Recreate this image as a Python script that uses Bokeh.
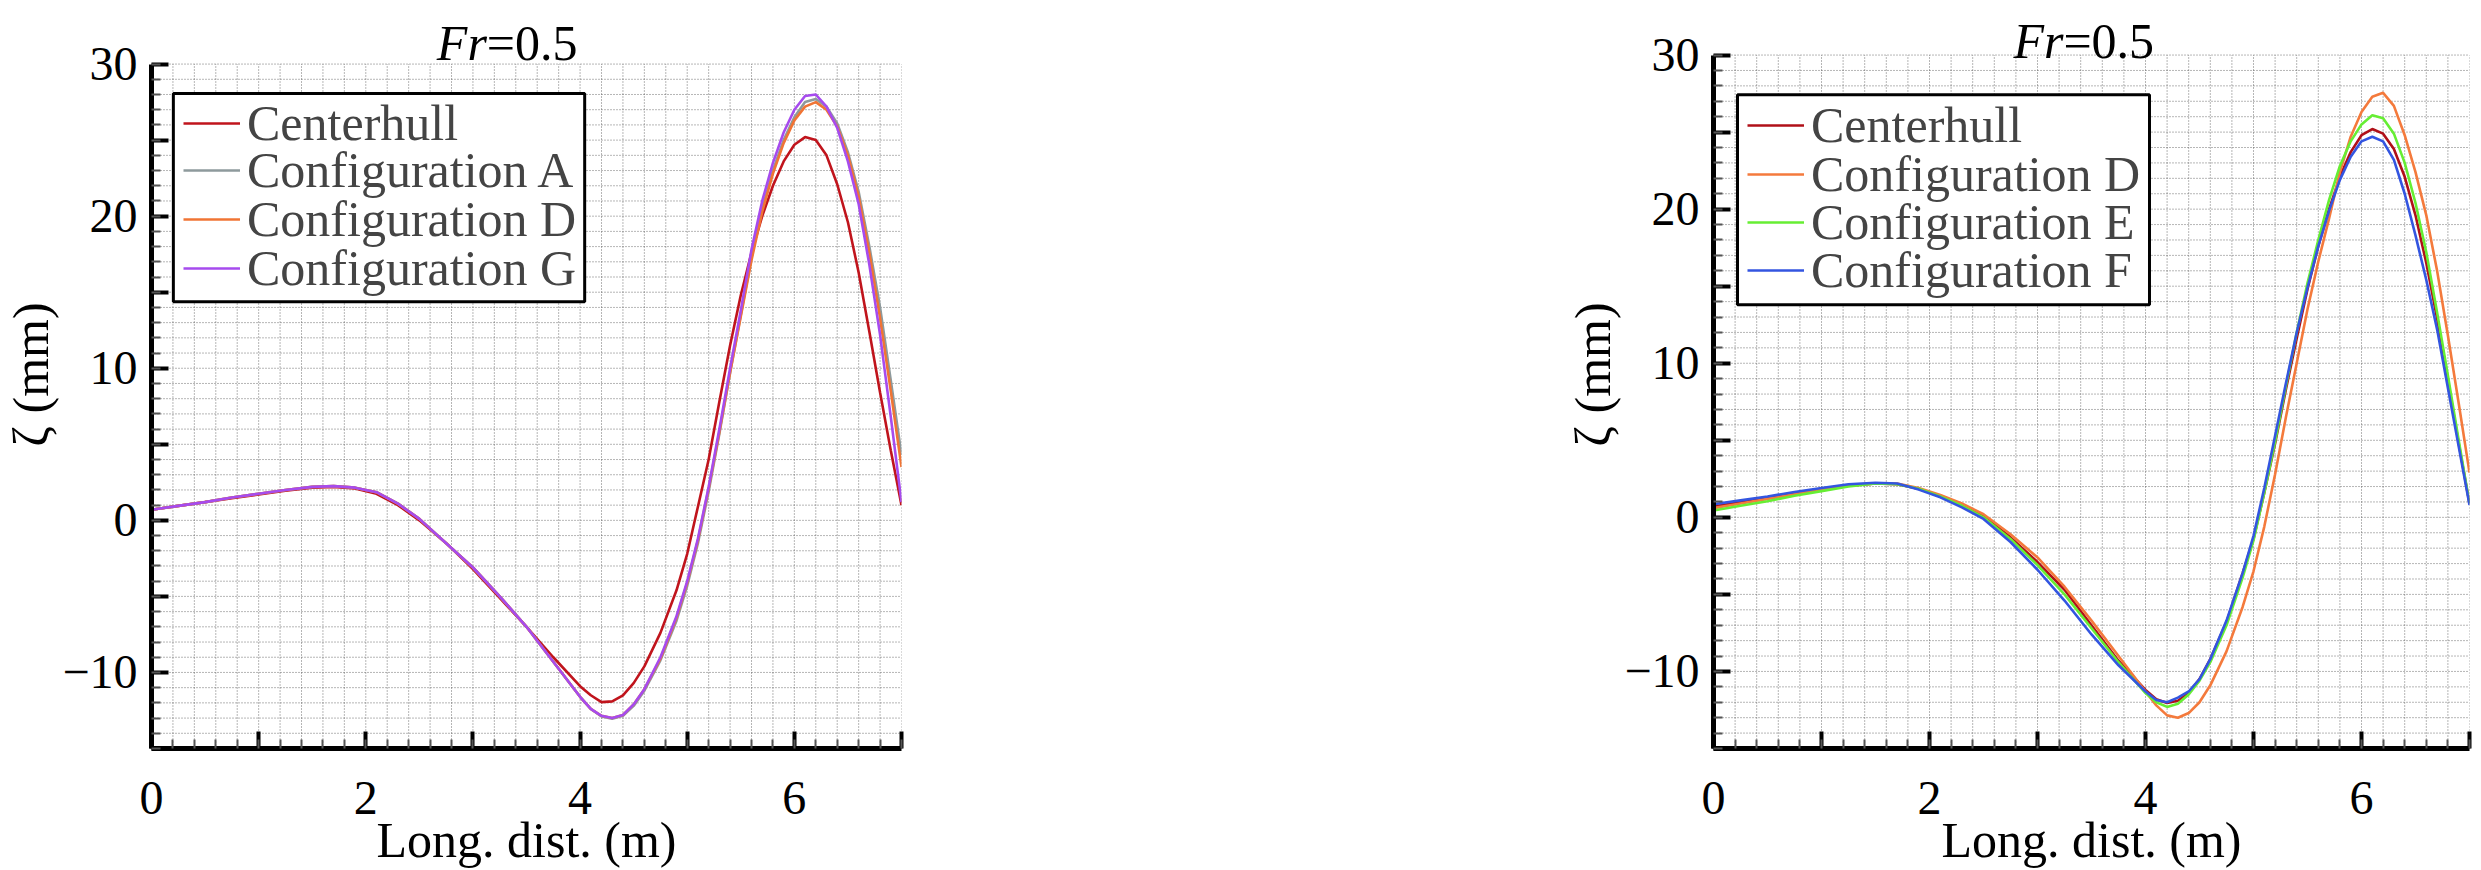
import numpy as np
from bokeh.plotting import figure
from bokeh.models import FixedTicker, Legend, LegendItem, Label, Range1d, BoxAnnotation
from bokeh.layouts import row
from bokeh.embed import file_html
from bokeh.resources import INLINE

# ---------------- data ----------------
X = [0.0, 0.25, 0.5, 0.75, 1.0, 1.25, 1.5, 1.7, 1.9, 2.1, 2.3, 2.5, 2.75, 3.0, 3.25, 3.5, 3.75,
     4.0, 4.1, 4.2, 4.3, 4.4, 4.5, 4.6, 4.75, 4.9, 5.0, 5.1, 5.2, 5.3, 5.4, 5.5, 5.6, 5.7, 5.8,
     5.9, 6.0, 6.1, 6.2, 6.3, 6.4, 6.5, 6.6, 6.7, 6.8, 6.9, 7.0]

# left panel
left_centerhull = [0.7, 0.95, 1.2, 1.45, 1.7, 1.95, 2.15, 2.2, 2.1, 1.75, 1.0, 0.0, -1.5, -3.2, -5.1, -7.0, -9.0,
                   -10.9, -11.5, -11.95, -11.9, -11.5, -10.7, -9.6, -7.4, -4.6, -2.2, 0.9, 4.0, 7.8, 11.5, 14.8,
                   17.6, 20.0, 22.0, 23.6, 24.7, 25.2, 25.0, 24.0, 22.1, 19.6, 16.3, 12.4, 8.4, 4.6, 1.0]
left_config_a = [0.7, 0.95, 1.2, 1.5, 1.75, 2.0, 2.2, 2.25, 2.15, 1.85, 1.1, 0.1, -1.5, -3.1, -5.0, -7.0, -9.3,
                 -11.6, -12.4, -12.9, -13.05, -12.85, -12.2, -11.2, -9.2, -6.6, -4.3, -1.5, 1.9, 5.7, 9.7, 13.5,
                 17.3, 20.5, 23.0, 25.0, 26.5, 27.5, 27.7, 27.2, 26.1, 24.2, 21.6, 18.0, 14.0, 9.2, 4.3]
left_config_d = [0.7, 0.95, 1.2, 1.5, 1.75, 2.0, 2.2, 2.25, 2.15, 1.85, 1.1, 0.1, -1.5, -3.1, -5.0, -7.0, -9.3,
                 -11.6, -12.4, -12.85, -13.0, -12.8, -12.1, -11.1, -9.1, -6.4, -4.1, -1.3, 2.1, 5.8, 9.7, 13.4,
                 17.1, 20.3, 22.8, 24.8, 26.3, 27.2, 27.5, 27.0, 25.9, 24.0, 21.3, 17.6, 13.3, 8.5, 3.5]
left_config_g = [0.7, 0.95, 1.2, 1.5, 1.75, 2.0, 2.2, 2.25, 2.15, 1.85, 1.1, 0.1, -1.5, -3.1, -5.0, -7.0, -9.3,
                 -11.6, -12.4, -12.85, -13.0, -12.8, -12.1, -11.1, -9.0, -6.3, -4.0, -1.2, 2.2, 6.0, 10.0, 13.8,
                 17.8, 21.0, 23.5, 25.5, 27.0, 27.9, 28.0, 27.2, 25.8, 23.6, 20.8, 16.8, 12.2, 6.8, 1.2]

# right panel
right_centerhull = [0.7, 1.0, 1.25, 1.55, 1.8, 2.05, 2.2, 2.15, 1.85, 1.35, 0.8, 0.1, -1.3, -2.9, -4.7, -7.0, -9.3,
                    -11.2, -11.8, -12.05, -11.9, -11.4, -10.5, -9.2, -6.8, -3.6, -1.4, 1.6, 4.8, 8.3, 11.6, 14.8,
                    17.6, 20.0, 22.1, 23.7, 24.8, 25.2, 24.9, 23.9, 22.1, 19.6, 16.5, 12.9, 8.9, 4.8, 0.9]
right_config_d = [0.6, 0.9, 1.2, 1.5, 1.8, 2.05, 2.2, 2.2, 1.9, 1.45, 0.9, 0.2, -1.1, -2.6, -4.5, -6.7, -9.0,
                  -11.3, -12.2, -12.85, -13.0, -12.7, -12.0, -10.9, -8.7, -5.8, -3.5, -0.6, 2.8, 6.5, 10.0, 13.5,
                  16.6, 19.4, 22.4, 24.7, 26.3, 27.3, 27.55, 26.7, 24.8, 22.4, 19.6, 16.0, 11.8, 7.4, 2.9]
right_config_e = [0.45, 0.75, 1.05, 1.4, 1.7, 2.0, 2.2, 2.15, 1.85, 1.35, 0.75, 0.0, -1.4, -3.1, -5.0, -7.2, -9.4,
                  -11.4, -12.0, -12.3, -12.1, -11.5, -10.6, -9.4, -7.0, -3.9, -1.5, 1.6, 4.9, 8.5, 12.0, 15.2,
                  18.0, 20.6, 22.8, 24.4, 25.5, 26.1, 25.9, 24.9, 23.0, 20.4, 17.2, 13.3, 9.2, 5.0, 0.9]
right_config_f = [0.85, 1.1, 1.35, 1.65, 1.9, 2.15, 2.25, 2.2, 1.8, 1.3, 0.65, -0.1, -1.6, -3.4, -5.4, -7.6, -9.6,
                  -11.3, -11.85, -12.0, -11.7, -11.3, -10.5, -9.2, -6.7, -3.6, -1.2, 1.9, 5.3, 8.7, 12.0, 14.9,
                  17.6, 19.9, 21.9, 23.4, 24.4, 24.7, 24.4, 23.2, 21.0, 18.3, 15.4, 12.2, 8.4, 4.6, 0.8]

left_labels = ["Centerhull", "Configuration A", "Configuration D", "Configuration G"]
left_colors = ["#C0141C", "#8E9A9C", "#F07434", "#A64BEE"]
right_labels = ["Centerhull", "Configuration D", "Configuration E", "Configuration F"]
right_colors = ["#B01018", "#F47A3C", "#66EE33", "#3355E0"]

x_major = [0, 1, 2, 3, 4, 5, 6, 7]
x_minor = [round(0.2 * i, 1) for i in range(36)]
y_major = [-15, -10, -5, 0, 5, 10, 15, 20, 25, 30]
y_minor = list(range(-15, 31))
x_label_over = {1: "", 3: "", 5: "", 7: ""}
y_label_over = {-15: "", -5: "", 5: "", 15: "", 25: "", -10: "\u221210"}
title_main = "Fr"
title_rest = "=0.5"

FONT = "Liberation Serif"
H = 870


def make_panel(series, labels, colors, width, bl, br, bb, y_top, leg_x, leg_ys, box, title_xy):
    p = figure(width=width, height=H, x_range=Range1d(0, 7), y_range=Range1d(y_major[0], y_top),
               output_backend="svg", toolbar_location=None,
               min_border_left=bl, min_border_right=br, min_border_top=0, min_border_bottom=bb)
    p.outline_line_color = None
    p.background_fill_color = "white"
    p.xgrid.visible = False
    p.ygrid.visible = False

    # dotted grid on every minor tick position (limited to the data box)
    p.segment(x0=x_minor, y0=[y_major[0]] * len(x_minor), x1=x_minor, y1=[y_major[-1]] * len(x_minor),
              line_color="#4A4A4A", line_width=1, line_dash="1 2", line_alpha=0.8)
    p.segment(x0=[x_major[0]] * len(y_minor), y0=y_minor, x1=[x_major[-1]] * len(y_minor), y1=y_minor,
              line_color="#4A4A4A", line_width=1, line_dash="1 2", line_alpha=0.8)

    p.xaxis.ticker = FixedTicker(ticks=x_major, minor_ticks=x_minor)
    p.yaxis.ticker = FixedTicker(ticks=y_major, minor_ticks=y_minor)
    p.xaxis.major_label_overrides = x_label_over
    p.yaxis.major_label_overrides = y_label_over
    p.yaxis.bounds = (y_major[0], y_major[-1])

    for ax in (p.xaxis[0], p.yaxis[0]):
        ax.axis_line_width = 5
        ax.axis_line_color = "black"
        ax.major_tick_in = 17
        ax.major_tick_out = 0
        ax.minor_tick_in = 9
        ax.minor_tick_out = 0
        ax.major_tick_line_width = 4
        ax.major_tick_line_color = "black"
        ax.minor_tick_line_width = 2
        ax.minor_tick_line_color = "#555555"
        ax.major_label_text_font = FONT
        ax.major_label_text_font_size = "48px"
        ax.major_label_text_line_height = 1.0
        ax.major_label_text_color = "black"
        ax.axis_label_text_font = FONT
        ax.axis_label_text_font_size = "50px"
        ax.axis_label_text_font_style = "normal"
        ax.axis_label_text_color = "black"

    p.xaxis.axis_label = "Long. dist. (m)"
    p.yaxis.axis_label = "\u03b6 (mm)"
    p.xaxis.axis_label_text_line_height = 0.56
    p.yaxis.axis_label_text_line_height = 1.0
    p.xaxis.major_label_standoff = 33
    p.xaxis.axis_label_standoff = -5
    p.yaxis.major_label_standoff = 14
    p.yaxis.axis_label_standoff = 0

    renderers = []
    for ys, col in zip(series, colors):
        renderers.append(p.line(X, ys, line_color=col, line_width=2.6))

    # legend frame, then one legend row per series
    bx0, bx1, by_top, by_bot = box
    p.add_layout(BoxAnnotation(left=bx0, right=bx1, top=by_top, bottom=by_bot,
                               fill_color="white", fill_alpha=1.0,
                               line_color="black", line_width=3, line_alpha=1.0))
    for r, lab, ly in zip(renderers, labels, leg_ys):
        leg = Legend(items=[LegendItem(label=lab, renderers=[r])], location=(leg_x, ly),
                     margin=0, padding=0, spacing=0,
                     glyph_width=57, glyph_height=40, label_standoff=7, label_height=40,
                     label_text_font=FONT, label_text_font_size="50px",
                     border_line_color=None, background_fill_alpha=0.0)
        p.add_layout(leg, "center")

    tx, ty = title_xy
    p.add_layout(Label(x=tx, y=ty, text=title_main,
                       text_font=FONT, text_font_style="italic", text_font_size="50px",
                       text_align="right", text_baseline="alphabetic", text_color="black"))
    p.add_layout(Label(x=tx, y=ty, text=title_rest,
                       text_font=FONT, text_font_style="normal", text_font_size="50px",
                       text_align="left", text_baseline="alphabetic", text_color="black"))
    return p


p1 = make_panel([left_centerhull, left_config_a, left_config_d, left_config_g], left_labels, left_colors,
                1000, 148, 99, 117, 34.18,
                32, [596, 549, 500, 451],
                (0.204, 4.043, 28.06, 14.37), (3.13, 31.39))
p2 = make_panel([right_centerhull, right_config_d, right_config_e, right_config_f], right_labels, right_colors,
                1481, 713, 12, 117, 33.54,
                34, [594, 545, 497, 449],
                (0.222, 4.037, 27.43, 13.79), (3.24, 30.94))

layout = row(p1, p2)
open("out.html", "w").write(file_html(layout, INLINE))
